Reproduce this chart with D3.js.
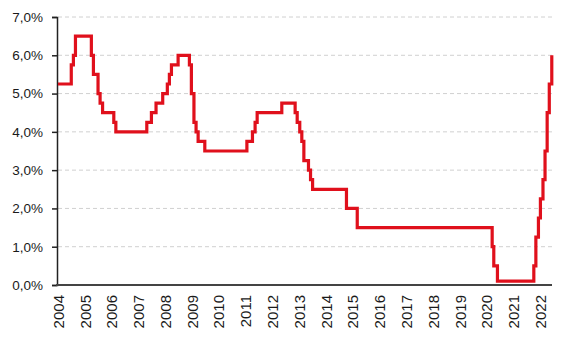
<!DOCTYPE html>
<html>
<head>
<meta charset="utf-8">
<script src="https://cdn.jsdelivr.net/npm/d3@7"></script>
<style>
  body { margin: 0; background: #fff; }
  svg { display: block; font-family: "DejaVu Sans", "Verdana", sans-serif; }
  .grid line { stroke: #d0d0d0; stroke-dasharray: 4 3; }
  .y-axis text { font-size: 13.5px; fill: #1a1a1a; }
  .x-axis text { font-size: 15px; fill: #1a1a1a; }
</style>
</head>
<body>
<svg id="chart" width="567" height="338"></svg>
<script>
// NBP reference rate: date of change and new rate (%)
const changeDates = [
  "2004-01-01", "2004-06-30", "2004-07-29", "2004-08-26", "2005-03-31", "2005-04-28",
  "2005-06-30", "2005-07-28", "2005-08-31", "2006-01-31", "2006-02-28", "2007-04-26",
  "2007-06-28", "2007-08-30", "2007-11-29", "2008-01-31", "2008-02-28", "2008-03-27",
  "2008-06-26", "2008-11-27", "2008-12-24", "2009-01-28", "2009-02-26", "2009-03-26",
  "2009-06-25", "2011-01-20", "2011-04-06", "2011-05-12", "2011-06-09", "2012-05-10",
  "2012-11-08", "2012-12-06", "2013-01-10", "2013-02-07", "2013-03-07", "2013-05-09",
  "2013-06-06", "2013-07-04", "2014-10-09", "2015-03-05", "2020-03-18", "2020-04-09",
  "2020-05-29", "2021-10-07", "2021-11-04", "2021-12-09", "2022-01-05", "2022-02-09",
  "2022-03-09", "2022-04-07", "2022-05-06", "2022-06-09"
];
const rates = [
  5.25, 5.75, 6.0, 6.5, 6.0, 5.5,
  5.0, 4.75, 4.5, 4.25, 4.0, 4.25,
  4.5, 4.75, 5.0, 5.25, 5.5, 5.75,
  6.0, 5.75, 5.0, 4.25, 4.0, 3.75,
  3.5, 3.75, 4.0, 4.25, 4.5, 4.75,
  4.5, 4.25, 4.0, 3.75, 3.25, 3.0,
  2.75, 2.5, 2.0, 1.5, 1.0, 0.5,
  0.1, 0.5, 1.25, 1.75, 2.25, 2.75,
  3.5, 4.5, 5.25, 6.0
];
const yearTicks = d3.range(2004, 2023);
const yTicks = [0, 1, 2, 3, 4, 5, 6, 7];

const parse = d3.timeParse("%Y-%m-%d");
const data = changeDates.map((d, i) => ({ date: parse(d), rate: rates[i] }));

const svg = d3.select("#chart");
const plot = { left: 58, right: 552, top: 17, bottom: 285 };

const x = d3.scaleTime()
  .domain([new Date(2004, 0, 1), new Date(2022, 5, 12)])
  .range([plot.left, plot.right]);
const y = d3.scaleLinear().domain([0, 7]).range([plot.bottom, plot.top]);

// dashed horizontal gridlines
svg.append("g")
  .attr("class", "grid")
  .selectAll("line")
  .data(yTicks.filter(t => t > 0))
  .join("line")
  .attr("x1", plot.left)
  .attr("x2", plot.right)
  .attr("y1", d => y(d))
  .attr("y2", d => y(d));

// y axis
const yAxis = svg.append("g")
  .attr("class", "y-axis")
  .attr("transform", `translate(${plot.left - 1},0)`)
  .call(d3.axisLeft(y)
    .tickValues(yTicks)
    .tickSize(5)
    .tickPadding(9)
    .tickFormat(d => d3.format(".1f")(d).replace(".", ",") + "%"));
yAxis.select(".domain").attr("stroke", "#222").attr("stroke-width", 1.5);
yAxis.selectAll(".tick line").attr("stroke", "#222").attr("stroke-width", 1.5);

// x axis
const xAxis = svg.append("g")
  .attr("class", "x-axis")
  .attr("transform", `translate(0,${plot.bottom})`)
  .call(d3.axisBottom(x)
    .tickValues(yearTicks.map(yr => new Date(yr, 0, 1)))
    .tickSize(0)
    .tickSizeOuter(0)
    .tickFormat(d3.timeFormat("%Y")));
xAxis.select(".domain")
  .attr("stroke", "#444")
  .attr("stroke-width", 1.8)
  .attr("d", `M${plot.left - 2},0H${plot.right}`);
xAxis.selectAll("text")
  .attr("transform", "rotate(-90)")
  .attr("text-anchor", "end")
  .attr("x", -10)
  .attr("y", 0)
  .attr("dy", "0.35em");

// step line
const line = d3.line()
  .curve(d3.curveStepAfter)
  .x(d => x(d.date))
  .y(d => y(d.rate));

svg.append("path")
  .datum(data)
  .attr("fill", "none")
  .attr("stroke", "#e0101c")
  .attr("stroke-width", 3.2)
  .attr("stroke-linejoin", "miter")
  .attr("d", line);
</script>
</body>
</html>
